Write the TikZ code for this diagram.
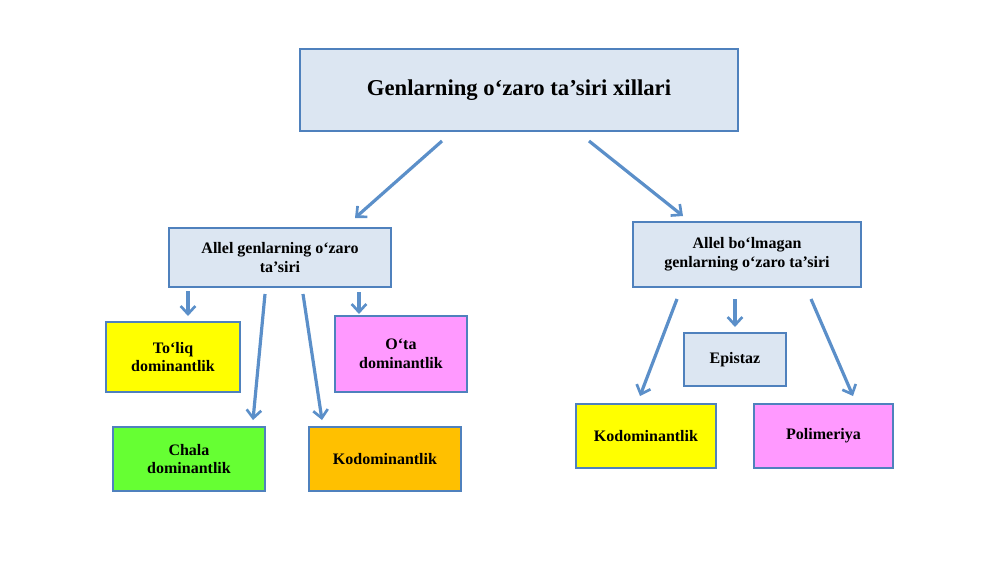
\documentclass[tikz,border=0pt]{standalone}
\usepackage{fontspec}
\setmainfont{Liberation Serif}
\usetikzlibrary{arrows.meta}
\definecolor{bfill}{HTML}{DCE6F2}
\definecolor{bline}{HTML}{4F81BD}
\definecolor{arr}{HTML}{5B8FC9}
\definecolor{yel}{HTML}{FFFF00}
\definecolor{pnk}{HTML}{FF99FF}
\definecolor{grn}{HTML}{66FF33}
\definecolor{org}{HTML}{FFC000}
\tikzset{
 box/.style={draw=bline,line width=0.8pt,align=center,font=\bfseries\fontsize{12}{14}\selectfont},
 conn/.style={draw=arr,line width=2.4pt,-{Straight Barb[length=6pt,width=11pt,line width=2pt]}}
}
\begin{document}
\begin{tikzpicture}[x=0.75pt,y=-0.75pt]
\useasboundingbox (0,0) rectangle (1000,562);
\newcommand{\bx}[7]{\node[box,fill=#6,minimum width=#4*0.75pt,minimum height=#5*0.75pt,inner sep=0pt] (#1) at (#2,#3) {#7};}
\bx{t}{519}{90}{438}{82}{bfill}{\fontsize{17}{20}\selectfont Genlarning o‘zaro ta’siri xillari}
\bx{a}{280}{257.5}{222}{59}{bfill}{Allel genlarning o‘zaro\\ta’siri}
\bx{b}{747}{254.5}{228}{65}{bfill}{Allel bo‘lmagan\\genlarning o‘zaro ta’siri}
\bx{c1}{173}{357}{134}{70}{yel}{To‘liq\\dominantlik}
\bx{c2}{401}{354}{132}{76}{pnk}{O‘ta\\dominantlik}
\bx{c3}{189}{459}{152}{64}{grn}{Chala\\dominantlik}
\bx{c4}{385}{459}{152}{64}{org}{Kodominantlik}
\bx{d1}{735}{359.5}{102}{53}{bfill}{Epistaz}
\bx{d2}{646}{436}{140}{64}{yel}{Kodominantlik}
\bx{d3}{823.5}{436}{139}{64}{pnk}{Polimeriya}
\coordinate (s1) at (442,141); \coordinate (e1) at (355,218);
\coordinate (s2) at (589,141); \coordinate (e2) at (683,216);
\coordinate (s3) at (188,291); \coordinate (e3) at (188,316);
\coordinate (s4) at (359,292); \coordinate (e4) at (359,314);
\coordinate (s5) at (265,294); \coordinate (e5) at (253,420);
\coordinate (s6) at (303,294); \coordinate (e6) at (322,420);
\coordinate (s7) at (677,299); \coordinate (e7) at (640,396);
\coordinate (s8) at (735,299); \coordinate (e8) at (735,327);
\coordinate (s9) at (811,299); \coordinate (e9) at (853,396);
\foreach \i in {1,...,9} \draw[conn] (s\i) -- (e\i);
\end{tikzpicture}
\end{document}
